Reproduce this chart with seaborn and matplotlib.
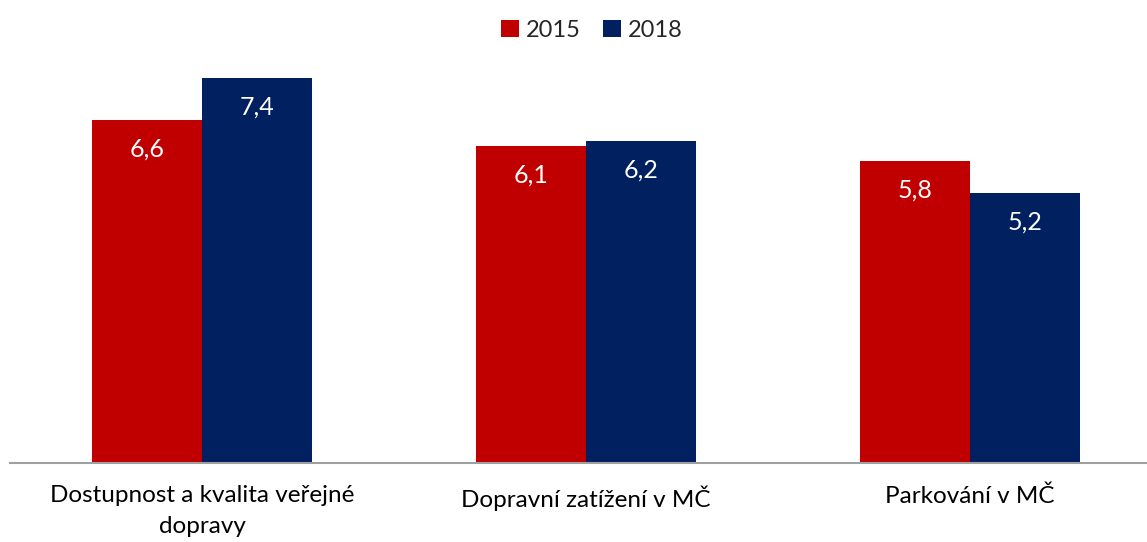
import matplotlib
matplotlib.use("Agg")
import matplotlib.pyplot as plt
import seaborn as sns
import pandas as pd

categories = ["Dostupnost a kvalita veřejné\ndopravy", "Dopravní zatížení v MČ", "Parkování v MČ"]
years = ["2015", "2018"]
values_2015 = [6.6, 6.1, 5.8]
values_2018 = [7.4, 6.2, 5.2]

df = pd.DataFrame({
    "cat": categories * 2,
    "year": [years[0]] * 3 + [years[1]] * 3,
    "value": values_2015 + values_2018,
})

sns.set_theme(style="white")
plt.rcParams["font.family"] = ["Lato", "DejaVu Sans"]

W, H = 1147, 542
fig = plt.figure(figsize=(W / 100, H / 100), dpi=100)
ax = fig.add_axes([10 / W, (542 - 463) / H, 1 - 10 / W, (463 - 47) / H])

palette = {"2015": "#C00000", "2018": "#002060"}
sns.barplot(data=df, x="cat", y="value", hue="year", palette=palette,
            width=220 / 384, saturation=1, ax=ax, edgecolor="none", legend=True)

ax.set_xlim(-0.5, 2.5 - 15 / 384)
ax.set_ylim(0, 8)
ax.set_xlabel("")
ax.set_ylabel("")
ax.set_yticks([])
for s in ["top", "right", "left"]:
    ax.spines[s].set_visible(False)
ax.spines["bottom"].set_color("#A0A0A0")
ax.spines["bottom"].set_linewidth(1.5)
ax.tick_params(axis="x", length=0, labelsize=17.5, colors="#000000", pad=16)
for t in ax.get_xticklabels():
    t.set_linespacing(1.6)

for cont in ax.containers:
    for bar in cont:
        h = bar.get_height()
        ax.annotate(f"{h:.1f}".replace(".", ","),
                    xy=(bar.get_x() + bar.get_width() / 2, h),
                    xytext=(0, -29), textcoords="offset pixels",
                    ha="center", va="center", color="white", fontsize=18)

leg = ax.legend(loc="upper center", bbox_to_anchor=(582 / (W - 10), 1 + 30 / 416 + 0.045),
                ncol=2, frameon=False, fontsize=17, handlelength=0.75, handleheight=0.75,
                handletextpad=0.3, columnspacing=0.95)

fig.savefig("out.png", dpi=100)
